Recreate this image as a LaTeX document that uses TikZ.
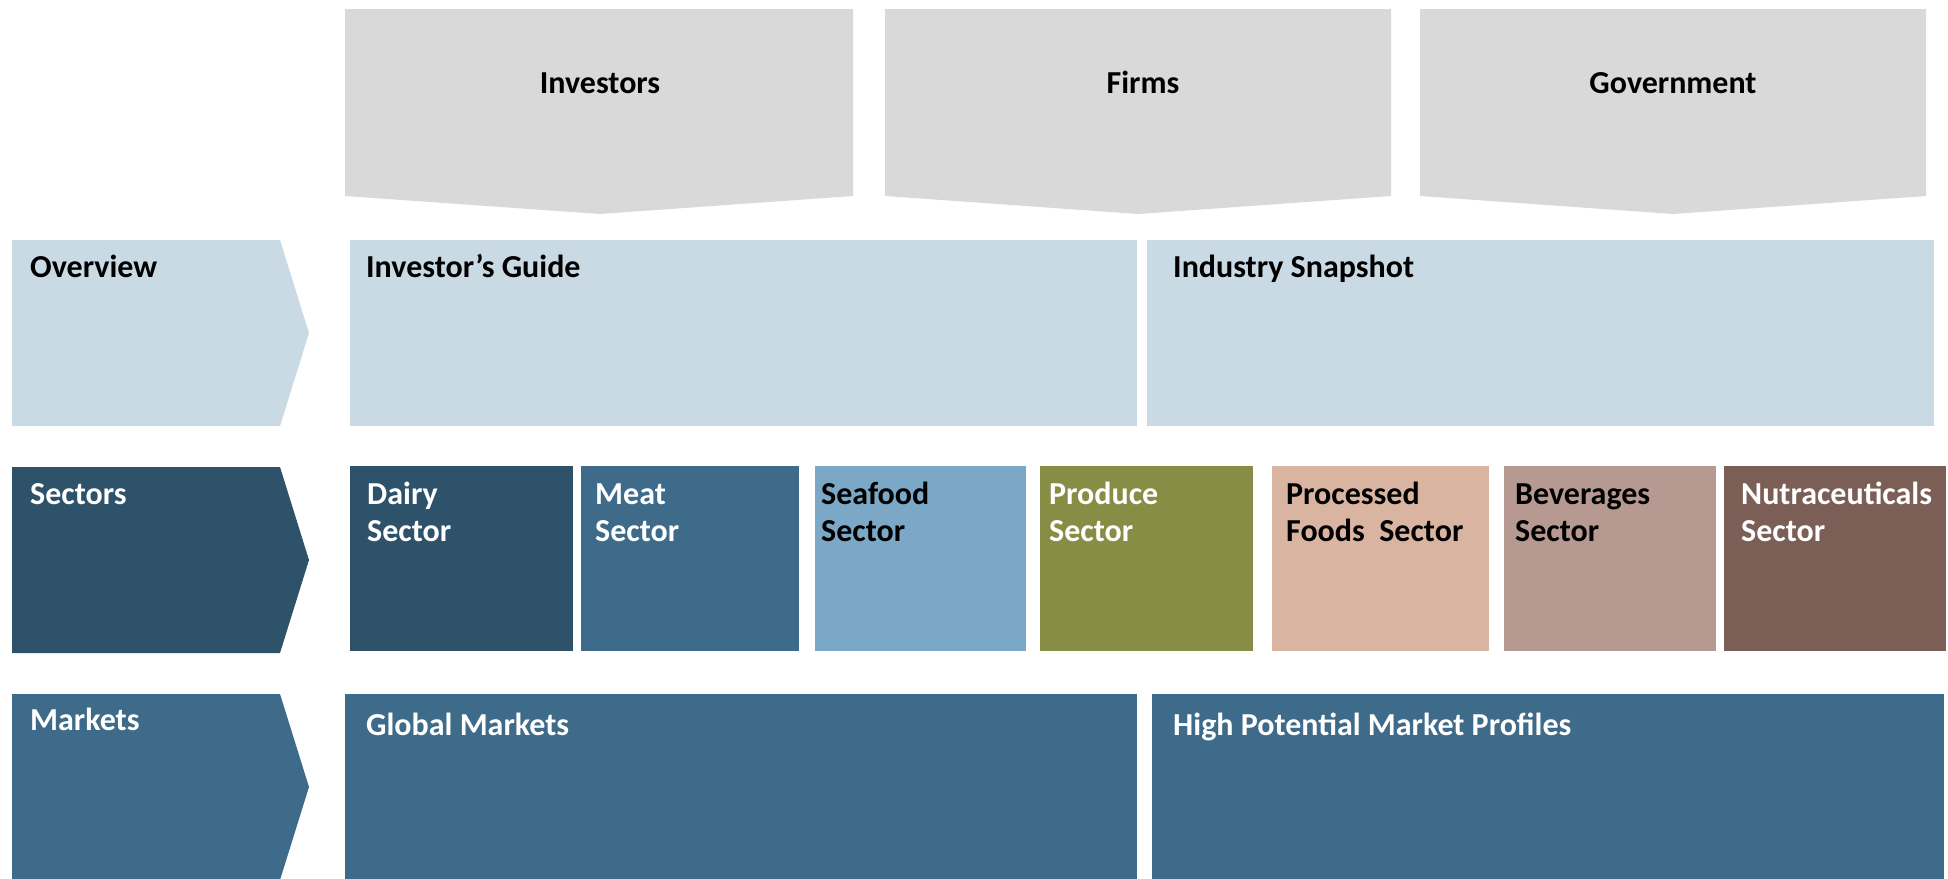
\documentclass[tikz,border=0pt]{standalone}
\usepackage{fontspec}
\setmainfont{Carlito}
\definecolor{cGrey}{HTML}{D9D9D9}
\definecolor{cLight}{HTML}{C9DAE5}
\definecolor{cDark}{HTML}{2E5269}
\definecolor{cMid}{HTML}{3E6B8A}
\definecolor{cSea}{HTML}{7BA8C7}
\definecolor{cProd}{HTML}{878D45}
\definecolor{cProc}{HTML}{D9B4A1}
\definecolor{cBev}{HTML}{B69A92}
\definecolor{cNut}{HTML}{7B5F56}
\begin{document}
\begin{tikzpicture}[x=1pt,y=-1pt,
  lbl/.style={font=\fontsize{32}{37}\selectfont\bfseries, inner sep=0pt, anchor=base west, align=left},
  ctr/.style={font=\fontsize{32}{37}\selectfont\bfseries, inner sep=0pt, anchor=base},
  panel/.style={draw=none, inner sep=0pt, anchor=north west}
]
\useasboundingbox (0,0) rectangle (1948,878);
% top chevrons
\fill[cGrey] (345,9) -- (853,9) -- (853,196) -- (600,214) -- (345,196) -- cycle;
\fill[cGrey] (885,9) -- (1391,9) -- (1391,196) -- (1138,214) -- (885,196) -- cycle;
\fill[cGrey] (1420,9) -- (1926,9) -- (1926,196) -- (1673,214) -- (1420,196) -- cycle;
\node[ctr] (inv) at (600,93) {Investors};
\node[ctr] (firms) at (1143,93) {Firms};
\node[ctr] (gov) at (1673,93) {Government};
% left arrows
\fill[cLight] (12,240) -- (280,240) -- (309,333) -- (280,426) -- (12,426) -- cycle;
\fill[cDark] (12,467) -- (280,467) -- (309,560) -- (280,653) -- (12,653) -- cycle;
\fill[cMid] (12,694) -- (280,694) -- (309,787) -- (280,880) -- (12,880) -- cycle;
\node[lbl] (ov) at (30,277) {Overview};
\node[lbl, text=white] (sec) at (30,504) {Sectors};
\node[lbl, text=white] (mkt) at (30,730) {Markets};
% overview panels
\node[panel, fill=cLight, minimum width=787pt, minimum height=186pt] (guideBox) at (350,240) {};
\node[panel, fill=cLight, minimum width=787pt, minimum height=186pt] (snapBox) at (1147,240) {};
\node[lbl] (guide) at (366,277) {Investor’s Guide};
\node[lbl] (snap) at (1173,277) {Industry Snapshot};
% sector panels
\node[panel, fill=cDark, minimum width=223pt, minimum height=185pt] (dairyBox) at (350,466) {};
\node[panel, fill=cMid, minimum width=218pt, minimum height=185pt] (meatBox) at (581,466) {};
\node[panel, fill=cSea, minimum width=211pt, minimum height=185pt] (seaBox) at (815,466) {};
\node[panel, fill=cProd, minimum width=213pt, minimum height=185pt] (prodBox) at (1040,466) {};
\node[panel, fill=cProc, minimum width=217pt, minimum height=185pt] (procBox) at (1272,466) {};
\node[panel, fill=cBev, minimum width=212pt, minimum height=185pt] (bevBox) at (1504,466) {};
\node[panel, fill=cNut, minimum width=222pt, minimum height=185pt] (nutBox) at (1724,466) {};
\node[lbl, text=white] (dairy) at (367,541) {Dairy\\Sector};
\node[lbl, text=white] (meat) at (595,541) {Meat\\Sector};
\node[lbl] (sea) at (821,541) {Seafood\\Sector};
\node[lbl, text=white] (prod) at (1049,541) {Produce\\Sector};
\node[lbl] (proc) at (1286,541) {Processed\\Foods\ \ Sector};
\node[lbl] (bev) at (1515,541) {Beverages\\Sector};
\node[lbl, text=white] (nut) at (1741,541) {Nutraceuticals\\Sector};
% market panels
\node[panel, fill=cMid, minimum width=792pt, minimum height=186pt] (globBox) at (345,694) {};
\node[panel, fill=cMid, minimum width=792pt, minimum height=186pt] (highBox) at (1152,694) {};
\node[lbl, text=white] (glob) at (366,735) {Global Markets};
\node[lbl, text=white] (high) at (1173,735) {High Potential Market Profiles};
\end{tikzpicture}
\end{document}
